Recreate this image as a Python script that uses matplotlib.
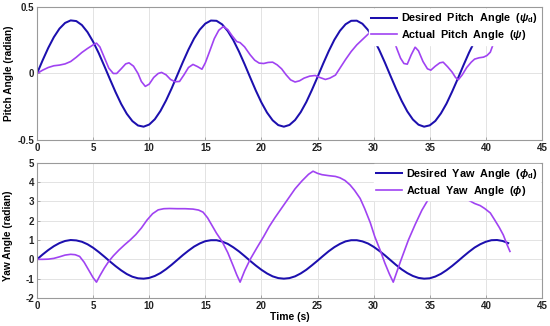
import numpy as np
import matplotlib
matplotlib.use("Agg")
import matplotlib.pyplot as plt

plt.rcParams['font.family'] = ['Liberation Sans', 'DejaVu Sans']
plt.rcParams['font.weight'] = 'bold'
plt.rcParams['axes.unicode_minus'] = False
plt.rcParams['mathtext.fontset'] = 'custom'
plt.rcParams['mathtext.rm'] = 'Liberation Sans:bold'
plt.rcParams['mathtext.it'] = 'Liberation Sans:italic:bold'
plt.rcParams['mathtext.bf'] = 'Liberation Sans:bold'

# ---------------- data ----------------
t_desired = np.linspace(0, 42, 85)

pitch_desired = [
    0, 0.099, 0.192, 0.273, 0.337, 0.380, 0.399, 0.394, 0.364, 0.311,
    0.239, 0.153, 0.056, -0.043, -0.140, -0.229, -0.303, -0.358, -0.391, -0.400,
    -0.384, -0.344, -0.282, -0.203, -0.112, -0.013, 0.086, 0.180, 0.263, 0.329,
    0.375, 0.398, 0.396, 0.369, 0.319, 0.250, 0.165, 0.070, -0.030, -0.128,
    -0.218, -0.294, -0.352, -0.388, -0.400, -0.387, -0.350, -0.291, -0.215, -0.124,
    -0.027, 0.073, 0.168, 0.253, 0.321, 0.370, 0.396, 0.397, 0.374, 0.327,
    0.260, 0.177, 0.083, -0.017, -0.115, -0.206, -0.285, -0.346, -0.385, -0.400,
    -0.390, -0.357, -0.300, -0.226, -0.136, -0.040, 0.060, 0.156, 0.242, 0.313,
    0.365, 0.394, 0.399, 0.379, 0.335]

yaw_desired = [
    0, 0.25, 0.48, 0.68, 0.84, 0.95, 1.00, 0.98, 0.91, 0.78,
    0.60, 0.38, 0.14, -0.11, -0.35, -0.57, -0.76, -0.90, -0.98, -1.00,
    -0.96, -0.86, -0.71, -0.51, -0.28, -0.03, 0.22, 0.45, 0.66, 0.82,
    0.94, 0.99, 0.99, 0.92, 0.80, 0.62, 0.41, 0.17, -0.08, -0.32,
    -0.54, -0.73, -0.88, -0.97, -1.00, -0.97, -0.88, -0.73, -0.54, -0.31,
    -0.07, 0.18, 0.42, 0.63, 0.80, 0.93, 0.99, 0.99, 0.93, 0.82,
    0.65, 0.44, 0.21, -0.04, -0.29, -0.52, -0.71, -0.86, -0.96, -1.00,
    -0.98, -0.89, -0.75, -0.56, -0.34, -0.10, 0.15, 0.39, 0.61, 0.78,
    0.91, 0.99, 1.00, 0.95, 0.84]

t_pitch_actual = [
    0.0, 0.5, 1.0, 1.5, 2.0, 2.5, 3.0, 3.5, 4.0, 4.5, 5.0, 5.3, 5.6, 6.0, 6.4,
    6.8, 7.1, 7.5, 7.9, 8.2, 8.6, 9.0, 9.3, 9.65, 10.0, 10.4, 10.8, 11.1, 11.5,
    11.9, 12.3, 12.7, 13.1, 13.5, 13.9, 14.3, 14.7, 15.0, 15.4, 15.8, 16.2,
    16.6, 17.0, 17.4, 17.8, 18.1, 18.5, 19.0, 19.4, 19.8, 20.2, 20.6, 21.0,
    21.4, 21.8, 22.2, 22.6, 23.0, 23.4, 23.8, 24.3, 24.8, 25.2, 25.7, 26.1,
    26.6, 27.0, 27.5, 28.0, 28.5, 29.0, 29.5, 29.9, 30.4, 31.0, 31.5, 31.8,
    32.1, 32.4, 32.7, 33.0, 33.35, 33.7, 34.0, 34.4, 34.8, 35.1, 35.5, 35.9,
    36.2, 36.6, 37.0, 37.3, 37.55, 37.9, 38.3, 38.7, 39.0, 39.4, 39.8, 40.1,
    40.4, 40.7, 41.0]
pitch_actual = [
    0.000, 0.025, 0.045, 0.058, 0.063, 0.072, 0.090, 0.122, 0.158, 0.188, 0.215,
    0.228, 0.200, 0.120, 0.040, 0.000, 0.000, 0.035, 0.072, 0.080, 0.055, 0.000,
    -0.060, -0.097, -0.080, -0.030, 0.000, 0.008, -0.010, -0.045, -0.062, -0.060,
    -0.010, 0.045, 0.068, 0.052, 0.032, 0.080, 0.170, 0.262, 0.325, 0.353, 0.330,
    0.282, 0.240, 0.232, 0.200, 0.140, 0.100, 0.078, 0.075, 0.083, 0.085, 0.065,
    0.035, -0.010, -0.048, -0.064, -0.055, -0.035, -0.020, -0.015, -0.030,
    -0.045, -0.035, -0.012, 0.040, 0.105, 0.165, 0.215, 0.255, 0.295, 0.320,
    0.345, 0.345, 0.300, 0.250, 0.180, 0.115, 0.075, 0.070, 0.140, 0.198, 0.170,
    0.090, 0.035, 0.025, 0.055, 0.080, 0.085, 0.050, 0.010, -0.030, -0.047,
    -0.010, 0.045, 0.085, 0.108, 0.118, 0.123, 0.135, 0.160, 0.230, 0.320]

t_yaw_actual = [
    0.0, 0.5, 1.0, 1.5, 2.0, 2.5, 3.0, 3.4, 3.8, 4.2, 4.6, 5.0, 5.3, 5.6, 6.0,
    6.4, 6.8, 7.3, 7.8, 8.3, 8.8, 9.3, 9.8, 10.3, 10.8, 11.3, 11.8, 12.5, 13.2,
    13.9, 14.4, 14.8, 15.2, 15.6, 16.0, 16.5, 17.0, 17.5, 17.8, 18.1, 18.5,
    19.0, 19.6, 20.2, 20.7, 21.2, 21.8, 22.4, 23.0, 23.6, 24.2, 24.6, 25.0,
    25.4, 26.0, 26.6, 27.0, 27.45, 27.9, 28.3, 28.8, 29.2, 29.7, 30.1, 30.6,
    31.0, 31.4, 31.75, 32.4, 33.1, 33.7, 34.3, 35.0, 35.6, 36.4, 37.2, 38.0,
    38.5, 39.0, 39.5, 39.9, 40.4, 40.8, 41.2, 41.56, 41.9, 42.15]
yaw_actual = [
    0.00, 0.00, 0.01, 0.05, 0.13, 0.22, 0.26, 0.24, 0.15, -0.15, -0.55, -0.95,
    -1.18, -0.85, -0.45, -0.10, 0.18, 0.48, 0.75, 1.00, 1.28, 1.62, 2.03, 2.36,
    2.56, 2.62, 2.63, 2.62, 2.62, 2.60, 2.55, 2.44, 2.15, 1.75, 1.35, 0.92, 0.35,
    -0.36, -0.80, -1.18, -0.60, 0.00, 0.60, 1.18, 1.70, 2.15, 2.65, 3.15, 3.65,
    4.05, 4.40, 4.56, 4.45, 4.38, 4.33, 4.29, 4.22, 4.08, 3.85, 3.57, 3.15, 2.63,
    1.90, 1.18, 0.45, -0.19, -0.75, -1.18, -0.10, 1.00, 1.80, 2.54, 3.23, 3.80,
    3.95, 3.60, 3.23, 3.05, 2.89, 2.78, 2.63, 2.40, 2.03, 1.65, 1.26, 0.75, 0.41]

x_ticks = [0, 5, 10, 15, 20, 25, 30, 35, 40, 45]
pitch_ticks = [-0.5, 0, 0.5]
pitch_tick_labels = ['-0.5', '0', '0.5']
yaw_ticks = [-2, -1, 0, 1, 2, 3, 4, 5]

c_des = '#1c0fae'
c_act = '#a043f2'

fig = plt.figure(figsize=(5.5, 3.26), dpi=100)
ax1 = fig.add_axes([0.0673, 0.5706, 0.918, 0.408])
ax2 = fig.add_axes([0.0673, 0.0859, 0.918, 0.415])

tick_fs = 7
for ax in (ax1, ax2):
    ax.set_xlim(0, 45)
    ax.set_xticks(x_ticks)
    ax.set_xticklabels([str(v) for v in x_ticks])
    ax.grid(True, color='#e3e3e3', linewidth=0.7)
    ax.set_axisbelow(True)
    for s in ax.spines.values():
        s.set_color('#9a9a9a')
        s.set_linewidth(0.8)
    ax.tick_params(direction='in', length=2.5, width=0.6, color='#9a9a9a',
                   labelsize=tick_fs, pad=2, top=False, right=False,
                   labelcolor='#222222')
    for lab in ax.get_xticklabels() + ax.get_yticklabels():
        lab.set_fontweight('bold')

ax1.plot(t_desired, pitch_desired, color=c_des, lw=1.45,
         label='Desired  Pitch  Angle  ($\\psi_\\mathrm{d}$)')
ax1.plot(t_pitch_actual, pitch_actual, color=c_act, lw=1.2,
         label='Actual  Pitch  Angle  ($\\psi$)')
ax1.set_ylim(-0.5, 0.5)
ax1.set_yticks(pitch_ticks)
ax1.set_yticklabels(pitch_tick_labels, fontweight='bold')
ax1.set_ylabel('Pitch Angle (radian)', fontsize=7.3, fontweight='bold')
ax1.yaxis.set_label_coords(-0.045, 0.5)

ax2.plot(t_desired, yaw_desired, color=c_des, lw=1.45,
         label='Desired  Yaw  Angle  ($\\phi_\\mathrm{d}$)')
ax2.plot(t_yaw_actual, yaw_actual, color=c_act, lw=1.2,
         label='Actual  Yaw  Angle  ($\\phi$)')
ax2.set_ylim(-2, 5)
ax2.set_yticks(yaw_ticks)
ax2.set_yticklabels([str(v) for v in yaw_ticks], fontweight='bold')
ax2.set_ylabel('Yaw Angle (radian)', fontsize=7.3, fontweight='bold')
ax2.yaxis.set_label_coords(-0.047, 0.46)
ax2.set_xlabel('Time (s)', fontsize=7.5, fontweight='bold', labelpad=1)

for ax in (ax1, ax2):
    leg = ax.legend(loc='upper right', bbox_to_anchor=(1.0, 1.0),
                    fontsize=7.8, frameon=True, fancybox=False,
                    edgecolor='white', facecolor='white', framealpha=1,
                    handlelength=2.4, handletextpad=0.3, labelspacing=0.25,
                    borderpad=0.25, borderaxespad=0.15)
    for txt in leg.get_texts():
        txt.set_fontweight('bold')

fig.savefig('out.png', dpi=100)
